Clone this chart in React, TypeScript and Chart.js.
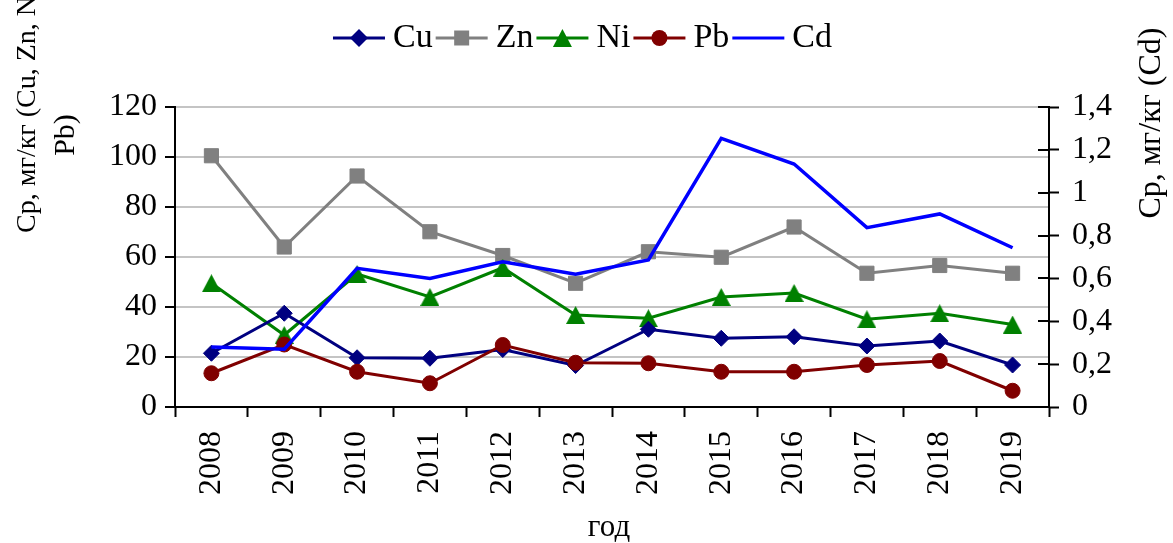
import React, { useEffect, useRef } from 'react';
import { Chart, registerables } from 'chart.js';

Chart.register(...registerables);

const years = ['2008', '2009', '2010', '2011', '2012', '2013', '2014', '2015', '2016', '2017', '2018', '2019'];
const cu = [21.5, 37.5, 19.7, 19.5, 23, 16.6, 31.1, 27.5, 28.1, 24.4, 26.4, 16.8];
const zn = [100.5, 64, 92.4, 70.1, 60.6, 49.5, 62.1, 59.9, 72, 53.5, 56.6, 53.5];
const ni = [49.5, 28.8, 53.2, 44, 55.7, 36.8, 35.5, 44, 45.6, 35.1, 37.5, 33];
const pb = [13.5, 25, 14.1, 9.5, 24.8, 17.7, 17.5, 14.1, 14.1, 16.8, 18.4, 6.5];
const cd = [0.28, 0.27, 0.647, 0.6, 0.678, 0.62, 0.686, 1.254, 1.134, 0.837, 0.901, 0.743];

const leftAxisMax = 120;
const leftAxisStep = 20;
const rightAxisMax = 1.4;
const rightAxisStep = 0.2;

const leftTitle1 = 'Ср, мг/кг (Cu, Zn, Ni,';
const leftTitle2 = 'Pb)';
const rightTitle = 'Ср, мг/кг (Cd)';
const xTitle = 'год';

const FONT = '"Liberation Serif", "Times New Roman", serif';

const COLORS = { Cu: '#000080', Zn: '#808080', Ni: '#008000', Pb: '#800000', Cd: '#0000ff' };

function makeTriangle(color: string) {
  const c = document.createElement('canvas');
  const w = 19;
  const h = 18;
  c.width = w;
  c.height = h;
  const g = c.getContext('2d')!;
  g.fillStyle = color;
  g.beginPath();
  g.moveTo(w / 2, 0);
  g.lineTo(w, h);
  g.lineTo(0, h);
  g.closePath();
  g.fill();
  return c;
}

function drawMarker(ctx: CanvasRenderingContext2D, kind: string, x: number, y: number, color: string) {
  ctx.fillStyle = color;
  ctx.beginPath();
  if (kind === 'diamond') {
    const r = 9;
    ctx.moveTo(x - r, y);
    ctx.lineTo(x, y - r);
    ctx.lineTo(x + r, y);
    ctx.lineTo(x, y + r);
    ctx.closePath();
  } else if (kind === 'square') {
    ctx.rect(x - 7.5, y - 7.5, 15, 15);
  } else if (kind === 'triangle') {
    ctx.moveTo(x, y - 9);
    ctx.lineTo(x + 9.5, y + 9);
    ctx.lineTo(x - 9.5, y + 9);
    ctx.closePath();
  } else if (kind === 'circle') {
    ctx.arc(x, y, 8, 0, Math.PI * 2);
  }
  ctx.fill();
}

const legendItems = [
  { label: 'Cu', color: COLORS.Cu, marker: 'diamond' },
  { label: 'Zn', color: COLORS.Zn, marker: 'square' },
  { label: 'Ni', color: COLORS.Ni, marker: 'triangle' },
  { label: 'Pb', color: COLORS.Pb, marker: 'circle' },
  { label: 'Cd', color: COLORS.Cd, marker: 'none' },
];

const decorPlugin = {
  id: 'decor',
  afterDraw(chart: any) {
    const ctx: CanvasRenderingContext2D = chart.ctx;
    const area = chart.chartArea;
    const y1 = chart.scales.y1;
    ctx.save();
    ctx.strokeStyle = '#000';
    ctx.lineWidth = 2;
    y1.ticks.forEach((_t: any, i: number) => {
      const py = Math.round(y1.getPixelForTick(i));
      ctx.beginPath();
      ctx.moveTo(area.right - 11, py);
      ctx.lineTo(area.right, py);
      ctx.stroke();
    });

    ctx.fillStyle = '#000';
    ctx.textBaseline = 'middle';

    ctx.save();
    ctx.font = `28px ${FONT}`;
    ctx.translate(28, 233);
    ctx.rotate(-Math.PI / 2);
    ctx.textAlign = 'left';
    ctx.fillText(leftTitle1, 0, 0);
    ctx.restore();

    ctx.save();
    ctx.font = `30px ${FONT}`;
    ctx.translate(66, 135);
    ctx.rotate(-Math.PI / 2);
    ctx.textAlign = 'center';
    ctx.fillText(leftTitle2, 0, 0);
    ctx.restore();

    ctx.save();
    ctx.font = `32px ${FONT}`;
    ctx.translate(1152, 123);
    ctx.rotate(-Math.PI / 2);
    ctx.textAlign = 'center';
    ctx.fillText(rightTitle, 0, 0);
    ctx.restore();

    ctx.font = `31px ${FONT}`;
    ctx.textAlign = 'center';
    ctx.fillText(xTitle, 609, 528);

    const lineLen = 52;
    const gapText = 8;
    const gapItem = 3;
    ctx.font = `34px ${FONT}`;
    const widths = legendItems.map((it) => ctx.measureText(it.label).width);
    let total = 0;
    widths.forEach((w, i) => {
      total += lineLen + gapText + w + (i < widths.length - 1 ? gapItem : 0);
    });
    let x = 582.5 - total / 2;
    const ly = 38;
    legendItems.forEach((it, i) => {
      ctx.strokeStyle = it.color;
      ctx.lineWidth = 3;
      ctx.beginPath();
      ctx.moveTo(x, ly);
      ctx.lineTo(x + lineLen, ly);
      ctx.stroke();
      if (it.marker !== 'none') drawMarker(ctx, it.marker, x + lineLen / 2, ly, it.color);
      ctx.fillStyle = '#000';
      ctx.textAlign = 'left';
      ctx.fillText(it.label, x + lineLen + gapText, ly);
      x += lineLen + gapText + widths[i] + gapItem;
    });
    ctx.restore();
  },
};

export default function App() {
  const ref = useRef<HTMLCanvasElement | null>(null);

  useEffect(() => {
    if (!ref.current) return;
    const tickFont = { family: FONT, size: 32 };
    const chart = new Chart(ref.current, {
      type: 'line',
      data: {
        labels: years,
        datasets: [
          {
            label: 'Cu',
            data: cu,
            yAxisID: 'y',
            borderColor: COLORS.Cu,
            backgroundColor: COLORS.Cu,
            borderWidth: 3,
            pointStyle: 'rectRot',
            pointRadius: 8,
            pointBorderWidth: 1,
            order: 2,
          },
          {
            label: 'Zn',
            data: zn,
            yAxisID: 'y',
            borderColor: COLORS.Zn,
            backgroundColor: COLORS.Zn,
            borderWidth: 3,
            pointStyle: 'rect',
            pointRadius: 10,
            pointBorderWidth: 1,
            order: 4,
          },
          {
            label: 'Ni',
            data: ni,
            yAxisID: 'y',
            borderColor: COLORS.Ni,
            backgroundColor: COLORS.Ni,
            borderWidth: 3,
            pointStyle: makeTriangle(COLORS.Ni) as any,
            pointRadius: 9,
            order: 3,
          },
          {
            label: 'Pb',
            data: pb,
            yAxisID: 'y',
            borderColor: COLORS.Pb,
            backgroundColor: COLORS.Pb,
            borderWidth: 3,
            pointStyle: 'circle',
            pointRadius: 7.5,
            pointBorderWidth: 1,
            order: 1,
          },
          {
            label: 'Cd',
            data: cd,
            yAxisID: 'y1',
            borderColor: COLORS.Cd,
            backgroundColor: COLORS.Cd,
            borderWidth: 3.5,
            pointRadius: 0,
            order: 0,
          },
        ],
      },
      options: {
        responsive: false,
        animation: false,
        events: [],
        layout: { padding: { top: 107, left: 0, right: 0, bottom: 0 } },
        plugins: {
          legend: { display: false },
          tooltip: { enabled: false },
        },
        scales: {
          x: {
            type: 'category',
            offset: true,
            grid: {
              offset: true,
              drawOnChartArea: false,
              drawTicks: true,
              tickLength: 10,
              tickColor: '#000',
              tickWidth: 2,
            },
            border: { color: '#000', width: 2 },
            ticks: {
              font: tickFont,
              color: '#000',
              minRotation: 90,
              maxRotation: 90,
              autoSkip: false,
              padding: 14,
            },
            afterFit: (s: any) => {
              s.height = 136;
            },
          },
          y: {
            position: 'left',
            min: 0,
            max: leftAxisMax,
            grid: {
              color: '#c4c4c4',
              lineWidth: 2,
              tickColor: '#000',
              tickWidth: 2,
              tickLength: 10,
            },
            border: { color: '#000', width: 2 },
            ticks: {
              stepSize: leftAxisStep,
              font: tickFont,
              color: '#000',
              padding: 8,
            },
            afterFit: (s: any) => {
              s.width = 175;
            },
          },
          y1: {
            position: 'right',
            min: 0,
            max: rightAxisMax,
            grid: {
              drawOnChartArea: false,
              tickColor: '#000',
              tickWidth: 2,
              tickLength: 10,
            },
            border: { color: '#000', width: 2 },
            ticks: {
              stepSize: rightAxisStep,
              font: tickFont,
              color: '#000',
              padding: 13,
              callback: (v: any) => String(Math.round(Number(v) * 10) / 10).replace('.', ','),
            },
            afterFit: (s: any) => {
              s.width = 124;
            },
          },
        },
      },
      plugins: [decorPlugin],
    });
    return () => chart.destroy();
  }, []);

  return (
    <canvas
      ref={ref}
      width={1173}
      height={543}
      style={{ position: 'fixed', left: 0, top: 0, width: '1173px', height: '543px', display: 'block', background: '#fff' }}
    />
  );
}
